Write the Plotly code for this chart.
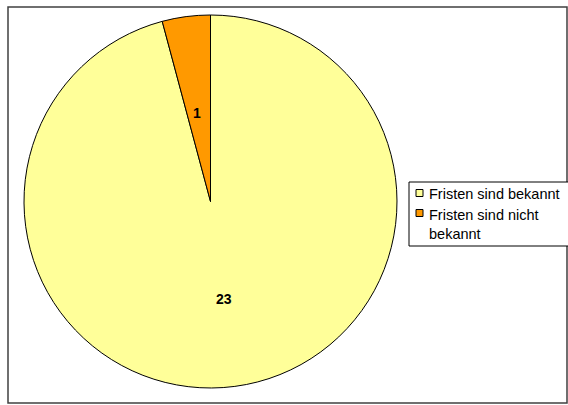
import math
import plotly.graph_objects as go

labels = ["Fristen sind bekannt", "Fristen sind nicht<br>bekannt"]
values = [23, 1]
colors = ["#FFFF99", "#FF9900"]

W, H = 568, 405
FONT = "Arial, Liberation Sans, sans-serif"

# pie geometry (pixels)
cx, cy, R = 210.5, 201.5, 186.5

def px(x):
    return x / W

def py(y):
    return 1 - y / H

fig = go.Figure(go.Pie(
    labels=labels, values=values, sort=False, direction="clockwise", rotation=0,
    marker=dict(colors=colors, line=dict(color="black", width=1)),
    textinfo="none", showlegend=False,
    domain=dict(x=[px(cx - R), px(cx + R)], y=[py(cy + R), py(cy - R)]),
    hoverinfo="label+value",
))

# value labels at mid-angle
annotations = []
total = sum(values)
acc = 0
for v in values:
    mid = (acc + v / 2) / total * 2 * math.pi
    acc += v
    lx = cx + 0.557 * R * math.sin(mid)
    ly = cy - 0.557 * R * math.cos(mid)
    annotations.append(dict(x=px(lx), y=py(ly + 4.5), xref="paper", yref="paper",
                            text=f"<b>{v}</b>", showarrow=False,
                            font=dict(family=FONT, size=14, color="black")))

# manual legend
shapes = [
    dict(type="rect", xref="paper", yref="paper", x0=px(8), x1=px(567), y0=py(403), y1=py(7),
         line=dict(color="#404040", width=1.5), layer="below"),
    dict(type="rect", xref="paper", yref="paper", x0=px(409), x1=px(580), y0=py(246), y1=py(182),
         line=dict(color="black", width=1), fillcolor="white"),
]
leg_y = [193, 213]
for i, (lab, col) in enumerate(zip(labels, colors)):
    yc = leg_y[i]
    shapes.append(dict(type="rect", xref="paper", yref="paper",
                       x0=px(416), x1=px(423), y0=py(yc + 3.5), y1=py(yc - 3.5),
                       line=dict(color="black", width=1), fillcolor=col))
    annotations.append(dict(x=px(427), y=py(yc - 8.5), xref="paper", yref="paper",
                            xanchor="left", yanchor="top", align="left",
                            text=lab, showarrow=False,
                            font=dict(family=FONT, size=14.5, color="black")))

fig.update_layout(
    width=W, height=H, margin=dict(l=0, r=0, t=0, b=0),
    paper_bgcolor="white", plot_bgcolor="white",
    font=dict(family=FONT, size=13, color="black"),
    showlegend=False,
    shapes=shapes, annotations=annotations,
)
fig.write_html("out.html", config={"displayModeBar": False},
               post_script="document.body.style.margin='0';")
